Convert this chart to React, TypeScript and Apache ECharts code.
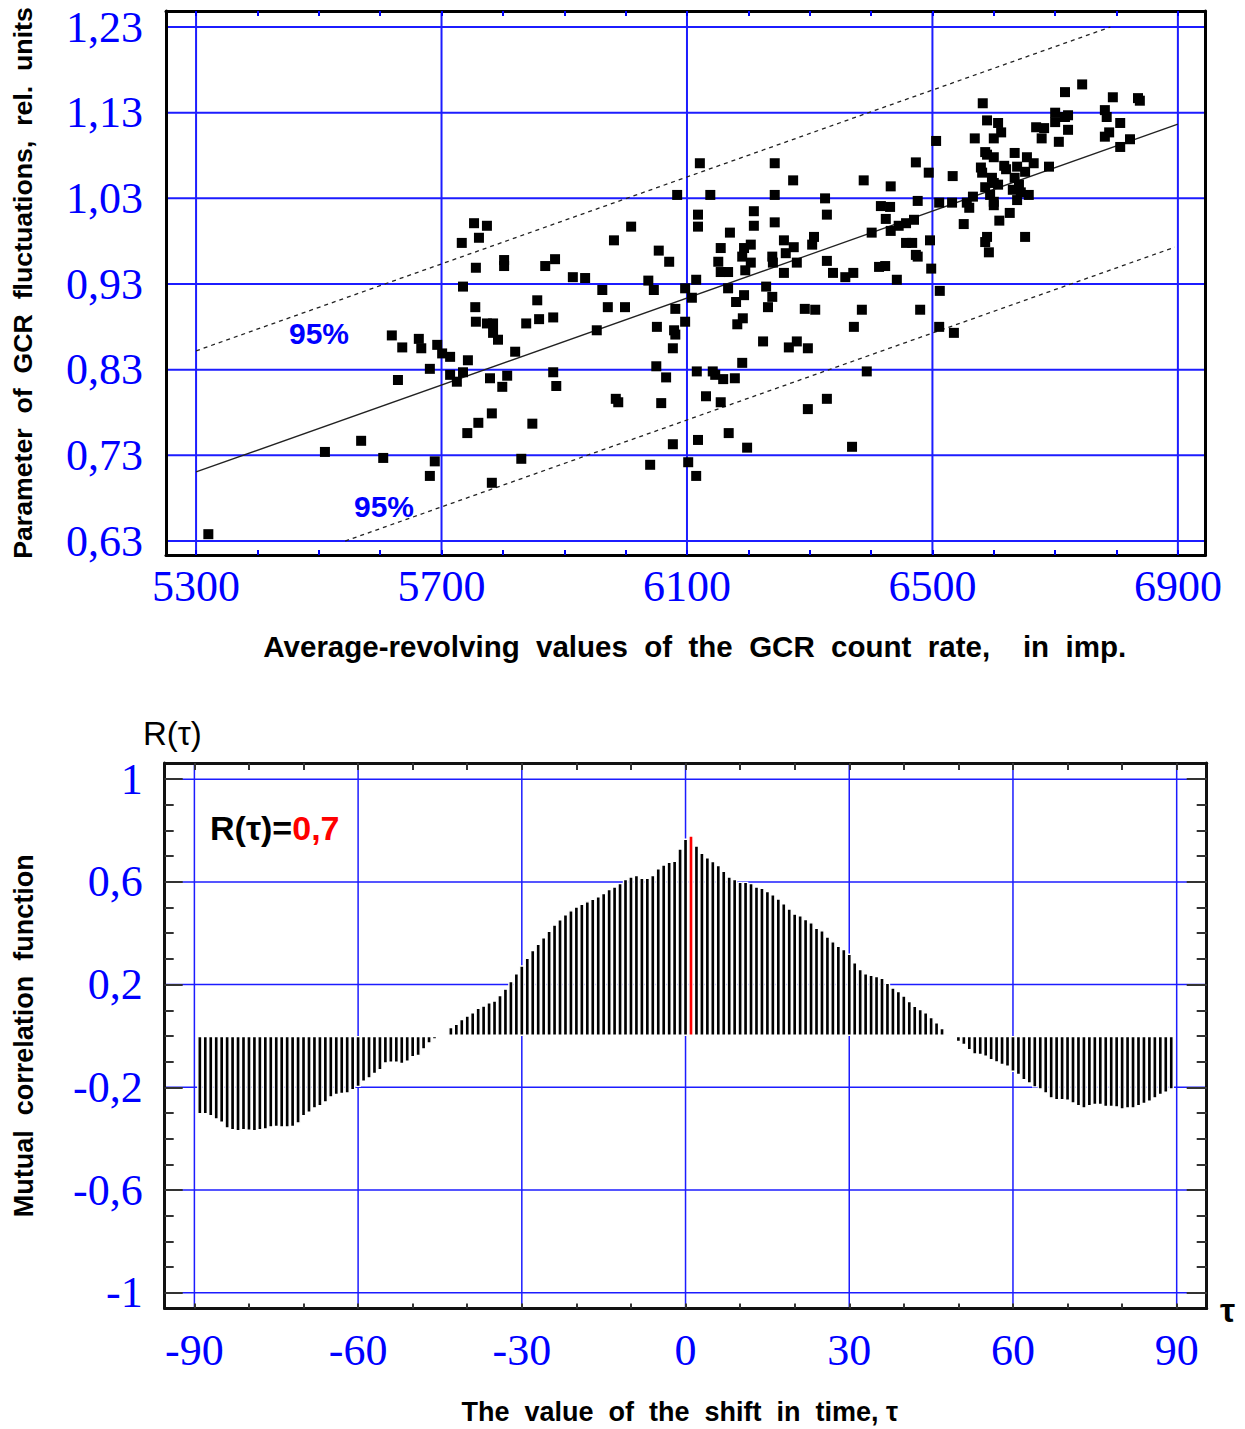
import React, { useEffect, useRef } from "react";
import * as echarts from "echarts";

// ---------- top chart data ----------
const gcrLabelTicks = [5300, 5700, 6100, 6500, 6900];
const gcrMinorTicks = [5300, 5400, 5500, 5600, 5700, 5800, 5900, 6000, 6100, 6200, 6300, 6400, 6500, 6600, 6700, 6800, 6900];
const paramTicks = [0.63, 0.73, 0.83, 0.93, 1.03, 1.13, 1.23];

const gcrPoints: [number, number][] = [
  [6744, 1.163], [6716, 1.154], [6794, 1.148], [6835, 1.147], [6838, 1.144], [6582, 1.141], [6589, 1.121], [6607, 1.118],
  [6700, 1.13], [6700, 1.119], [6716, 1.125], [6721, 1.127], [6781, 1.133], [6784, 1.125], [6806, 1.118], [6669, 1.113],
  [6682, 1.112], [6678, 1.1], [6721, 1.11], [6706, 1.096], [6612, 1.107], [6600, 1.1], [6569, 1.1], [6788, 1.107],
  [6781, 1.102], [6822, 1.099], [6806, 1.09], [6506, 1.097], [6586, 1.084], [6589, 1.081], [6600, 1.078], [6634, 1.083],
  [6654, 1.078], [6665, 1.071], [6690, 1.067], [6617, 1.068], [6620, 1.064], [6579, 1.066], [6581, 1.06], [6638, 1.067],
  [6651, 1.061], [6597, 1.054], [6600, 1.048], [6586, 1.043], [6607, 1.046], [6634, 1.054], [6641, 1.046], [6631, 1.04],
  [6644, 1.037], [6657, 1.034], [6638, 1.028], [6594, 1.034], [6600, 1.026], [6600, 1.022], [6566, 1.032], [6556, 1.025],
  [6560, 1.019], [6533, 1.056], [6494, 1.06], [6473, 1.072], [6432, 1.044], [6388, 1.051], [6273, 1.051], [6243, 1.071],
  [6121, 1.071], [6084, 1.034], [6138, 1.034], [6243, 1.034], [6325, 1.03], [6476, 1.027], [6511, 1.025], [6532, 1.025],
  [6416, 1.021], [6431, 1.02], [6118, 1.011], [6118, 0.997], [6209, 1.015], [6209, 0.998], [6243, 1.002], [6328, 1.011],
  [6424, 1.006], [6432, 0.992], [6445, 0.998], [6457, 1.001], [6470, 1.005], [6551, 1.0], [6609, 1.004], [6626, 1.013],
  [6009, 0.997], [5981, 0.981], [6170, 0.99], [6155, 0.972], [6193, 0.972], [6204, 0.976], [6258, 0.981], [6274, 0.973],
  [6261, 0.966], [6307, 0.985], [6304, 0.976], [6401, 0.99], [6457, 0.978], [6467, 0.978], [6496, 0.981], [6589, 0.985],
  [6586, 0.979], [6651, 0.985], [6592, 0.967], [6054, 0.969], [6071, 0.956], [6190, 0.962], [6204, 0.955], [6195, 0.946],
  [6151, 0.956], [6155, 0.944], [6167, 0.944], [6239, 0.962], [6240, 0.955], [6258, 0.943], [6279, 0.955], [6328, 0.957],
  [6338, 0.943], [6358, 0.938], [6371, 0.943], [6413, 0.95], [6423, 0.951], [6473, 0.964], [6476, 0.962], [6498, 0.948],
  [6442, 0.935], [6037, 0.934], [6046, 0.923], [6097, 0.925], [6108, 0.914], [6167, 0.925], [6229, 0.927], [6239, 0.915],
  [6232, 0.903], [6180, 0.909], [6193, 0.917], [6512, 0.922], [5962, 0.923], [5971, 0.903], [5999, 0.903], [6081, 0.901],
  [6292, 0.901], [6309, 0.9], [6385, 0.9], [6480, 0.9], [6115, 0.935], [6097, 0.886], [6051, 0.88], [6079, 0.876],
  [6081, 0.871], [6077, 0.855], [6182, 0.883], [6191, 0.89], [6372, 0.88], [6224, 0.863], [6266, 0.856], [6279, 0.863],
  [6297, 0.855], [6190, 0.838], [6050, 0.834], [6066, 0.821], [6116, 0.828], [6142, 0.828], [6146, 0.824], [6159, 0.819],
  [6178, 0.82], [6393, 0.828], [6511, 0.88], [5984, 0.796], [5988, 0.792], [6058, 0.791], [6131, 0.799], [6155, 0.792],
  [6297, 0.784], [6328, 0.796], [6168, 0.756], [6077, 0.743], [6118, 0.748], [6198, 0.739], [6369, 0.74], [6040, 0.719],
  [6102, 0.722], [6115, 0.706], [5755, 0.903], [5756, 0.886], [5774, 0.884], [5784, 0.884], [5784, 0.873], [5792, 0.865],
  [5619, 0.87], [5636, 0.856], [5663, 0.866], [5667, 0.855], [5693, 0.859], [5701, 0.849], [5714, 0.845], [5681, 0.831],
  [5629, 0.818], [5743, 0.841], [5714, 0.824], [5725, 0.816], [5735, 0.827], [5779, 0.82], [5799, 0.81], [5807, 0.823],
  [5820, 0.851], [5838, 0.884], [5859, 0.889], [5882, 0.891], [5856, 0.911], [5953, 0.876], [5882, 0.827], [5887, 0.811],
  [5782, 0.779], [5760, 0.768], [5742, 0.756], [5848, 0.767], [5830, 0.726], [5782, 0.698], [5605, 0.727], [5689, 0.723],
  [5681, 0.706], [5569, 0.747], [5510, 0.734], [5320, 0.638], [5733, 0.978], [5753, 1.001], [5774, 0.998], [5761, 0.984],
  [5756, 0.949], [5735, 0.927], [5802, 0.958], [5802, 0.951], [5869, 0.951], [5885, 0.959], [5914, 0.938], [5934, 0.937],
  [6535, 0.873],
];

const fitLine: [number, number][] = [[5300, 0.7106], [6900, 1.1166]];
const upper95: [number, number][] = [[5300, 0.852], [6790, 1.23]];
const lower95: [number, number][] = [[5543, 0.63], [6895, 0.973]];

// ---------- bottom chart data ----------
const lagLabelTicks = [-90, -60, -30, 0, 30, 60, 90];
const lagMinorTicks = [-90, -80, -70, -60, -50, -40, -30, -20, -10, 0, 10, 20, 30, 40, 50, 60, 70, 80, 90];
const corrLabelTicks = [-1, -0.6, -0.2, 0.2, 0.6, 1];
const corrMinorTicks = [-1, -0.9, -0.8, -0.7, -0.6, -0.5, -0.4, -0.3, -0.2, -0.1, 0, 0.1, 0.2, 0.3, 0.4, 0.5, 0.6, 0.7, 0.8, 0.9, 1];
const LAG_FIRST = -89;
const PEAK_LAG = 1;
const corrValues = [
  -0.306, -0.306, -0.313, -0.326, -0.339, -0.361, -0.368, -0.372, -0.368, -0.37, // -89..-80
  -0.372, -0.368, -0.365, -0.357, -0.355, -0.357, -0.357, -0.355, -0.342, -0.313, // -79..-70
  -0.3, -0.283, -0.274, -0.26, -0.24, -0.231, -0.227, -0.225, -0.212, -0.199, // -69..-60
  -0.179, -0.166, -0.149, -0.134, -0.108, -0.105, -0.105, -0.11, -0.101, -0.084, // -59..-50
  -0.079, -0.053, -0.03, -0.014, 0, 0.011, 0.035, 0.048, 0.067, 0.08, // -49..-40
  0.093, 0.11, 0.119, 0.132, 0.139, 0.16, 0.185, 0.215, 0.245, 0.275, // -39..-30
  0.305, 0.335, 0.36, 0.385, 0.41, 0.435, 0.455, 0.475, 0.49, 0.505, // -29..-20
  0.515, 0.525, 0.535, 0.545, 0.557, 0.573, 0.583, 0.596, 0.612, 0.622, // -19..-10
  0.627, 0.617, 0.617, 0.627, 0.654, 0.668, 0.679, 0.683, 0.731, 0.769, // -9..0
  0.781, 0.742, 0.714, 0.697, 0.682, 0.666, 0.644, 0.622, 0.612, 0.601, // 1..10
  0.601, 0.596, 0.583, 0.578, 0.565, 0.552, 0.536, 0.517, 0.497, 0.477, // 11..20
  0.471, 0.456, 0.443, 0.422, 0.412, 0.388, 0.369, 0.352, 0.339, 0.321, // 21..30
  0.288, 0.261, 0.245, 0.239, 0.234, 0.227, 0.208, 0.189, 0.176, 0.158, // 31..40
  0.137, 0.118, 0.106, 0.093, 0.074, 0.054, 0.032, 0.009, 0, -0.024, // 41..50
  -0.036, -0.056, -0.073, -0.075, -0.082, -0.095, -0.104, -0.114, -0.121, -0.14, // 51..60
  -0.153, -0.173, -0.186, -0.201, -0.209, -0.225, -0.244, -0.251, -0.251, -0.253, // 61..70
  -0.264, -0.274, -0.283, -0.274, -0.27, -0.27, -0.277, -0.277, -0.279, -0.287, // 71..80
  -0.283, -0.283, -0.274, -0.266, -0.257, -0.244, -0.231, -0.222, -0.209, // 81..89
];

// ---------- styling ----------
const BLUE = "#0000ff";
const GRID_BLUE = "#1c1cff";
const SANS = "Liberation Sans";
const SERIF = "Liberation Serif";

const TOP_X: [number, number] = [5251, 6945];
const TOP_Y: [number, number] = [0.6137, 1.2487];
const BOT_X: [number, number] = [-95.44, 95.5];
const BOT_Y: [number, number] = [-1.0615, 1.063];

const plainFmt = (v: number) => String(v);
const commaFmt2 = (v: number) => v.toFixed(2).replace(".", ",");
const commaFmt = (v: number) => String(v).replace(".", ",");

function gridLinesV(vals: number[], yr: [number, number], xi: number, yi: number, width: number) {
  return vals.map((v) => ({
    type: "line",
    xAxisIndex: xi,
    yAxisIndex: yi,
    data: [[v, yr[0]], [v, yr[1]]],
    symbol: "none",
    silent: true,
    z: 1,
    lineStyle: { color: GRID_BLUE, width },
  }));
}
function gridLinesH(vals: number[], xr: [number, number], xi: number, yi: number, width: number) {
  return vals.map((v) => ({
    type: "line",
    xAxisIndex: xi,
    yAxisIndex: yi,
    data: [[xr[0], v], [xr[1], v]],
    symbol: "none",
    silent: true,
    z: 1,
    lineStyle: { color: GRID_BLUE, width },
  }));
}

const nameStyle = (size: number, padding?: number[]) => ({
  fontFamily: SANS, fontWeight: "bold", fontSize: size, color: "#000", ...(padding ? { padding } : {}),
});
const tickLabel = { fontFamily: SERIF, fontSize: 44, color: BLUE };

export default function App() {
  const ref = useRef<HTMLDivElement>(null);
  useEffect(() => {
    if (!ref.current) return;
    const chart = echarts.init(ref.current, undefined, { renderer: "svg" });

    const bars = corrValues.map((v, i) => {
      const lag = LAG_FIRST + i;
      return lag === PEAK_LAG
        ? { value: [lag, v], itemStyle: { color: "#ff0000" } }
        : { value: [lag, v] };
    });

    const option: any = {
      animation: false,
      backgroundColor: "#ffffff",
      grid: [
        { left: 166, top: 11, width: 1039.5, height: 544, outerBoundsMode: "none" },
        { left: 164.7, top: 763, width: 1042, height: 545.5, outerBoundsMode: "none" },
      ],
      xAxis: [
        {
          type: "value", gridIndex: 0, position: "bottom", min: TOP_X[0], max: TOP_X[1], z: 5,
          axisLine: { show: true, onZero: false, lineStyle: { color: "#000", width: 3 } },
          axisTick: { show: true, inside: true, length: 5, customValues: gcrMinorTicks, lineStyle: { color: BLUE, width: 2 } },
          axisLabel: { show: true, customValues: gcrLabelTicks, margin: 9, formatter: plainFmt, ...tickLabel },
          splitLine: { show: false },
          name: "Average-revolving  values  of  the  GCR  count  rate,    in  imp.",
          nameLocation: "middle", nameGap: 76, nameMoveOverlap: false,
          nameTextStyle: nameStyle(29.5, [0, 0, 0, 18]),
        },
        {
          type: "value", gridIndex: 0, position: "top", min: TOP_X[0], max: TOP_X[1], z: 5,
          axisLine: { show: true, onZero: false, lineStyle: { color: "#000", width: 3 } },
          axisTick: { show: true, inside: true, length: 5, customValues: gcrMinorTicks, lineStyle: { color: BLUE, width: 2 } },
          axisLabel: { show: false },
          splitLine: { show: false },
        },
        {
          type: "value", gridIndex: 1, position: "bottom", min: BOT_X[0], max: BOT_X[1], z: 5,
          axisLine: { show: true, onZero: false, lineStyle: { color: "#111", width: 3 } },
          axisTick: { show: true, inside: true, length: 5, customValues: lagMinorTicks, lineStyle: { color: "#333", width: 2 } },
          axisLabel: { show: true, customValues: lagLabelTicks, margin: 20, formatter: plainFmt, ...tickLabel },
          splitLine: { show: false },
          name: "The  value  of  the  shift  in  time, τ",
          nameLocation: "middle", nameGap: 90, nameMoveOverlap: false,
          nameTextStyle: nameStyle(27, [0, 12, 0, 0]),
        },
        {
          type: "value", gridIndex: 1, position: "top", min: BOT_X[0], max: BOT_X[1], z: 5,
          axisLine: { show: true, onZero: false, lineStyle: { color: "#111", width: 3 } },
          axisTick: { show: true, inside: true, length: 7, customValues: lagMinorTicks, lineStyle: { color: "#333", width: 2 } },
          axisLabel: { show: false },
          splitLine: { show: false },
        },
      ],
      yAxis: [
        {
          type: "value", gridIndex: 0, position: "left", min: TOP_Y[0], max: TOP_Y[1], z: 5,
          axisLine: { show: true, onZero: false, lineStyle: { color: "#000", width: 3 } },
          axisTick: { show: false },
          axisLabel: { show: true, customValues: paramTicks, margin: 23, formatter: commaFmt2, ...tickLabel },
          splitLine: { show: false },
          name: "Parameter  of  GCR  fluctuations,  rel.  units",
          nameLocation: "middle", nameGap: 130, nameRotate: 90, nameMoveOverlap: false,
          nameTextStyle: nameStyle(26.7),
        },
        {
          type: "value", gridIndex: 0, position: "right", min: TOP_Y[0], max: TOP_Y[1], z: 5,
          axisLine: { show: true, onZero: false, lineStyle: { color: "#000", width: 3 } },
          axisTick: { show: false },
          axisLabel: { show: false },
          splitLine: { show: false },
        },
        {
          type: "value", gridIndex: 1, position: "left", min: BOT_Y[0], max: BOT_Y[1], z: 5,
          axisLine: { show: true, onZero: false, lineStyle: { color: "#111", width: 3 } },
          axisTick: { show: true, inside: true, length: 18, customValues: corrLabelTicks, lineStyle: { color: "#333", width: 2 } },
          axisLabel: { show: true, customValues: corrLabelTicks, margin: 22, formatter: commaFmt, ...tickLabel },
          splitLine: { show: false },
          name: "Mutual  correlation  function",
          nameLocation: "middle", nameGap: 127, nameRotate: 90, nameMoveOverlap: false,
          nameTextStyle: nameStyle(27),
        },
        {
          type: "value", gridIndex: 1, position: "left", offset: 0, min: BOT_Y[0], max: BOT_Y[1], z: 5,
          axisLine: { show: false, onZero: false },
          axisTick: { show: true, inside: true, length: 9, customValues: corrMinorTicks, lineStyle: { color: "#333", width: 2 } },
          axisLabel: { show: false },
          splitLine: { show: false },
        },
        {
          type: "value", gridIndex: 1, position: "right", min: BOT_Y[0], max: BOT_Y[1], z: 5,
          axisLine: { show: true, onZero: false, lineStyle: { color: "#111", width: 3 } },
          axisTick: { show: true, inside: true, length: 20, customValues: corrLabelTicks, lineStyle: { color: "#333", width: 2 } },
          axisLabel: { show: false },
          splitLine: { show: false },
        },
        {
          type: "value", gridIndex: 1, position: "right", offset: 0, min: BOT_Y[0], max: BOT_Y[1], z: 5,
          axisLine: { show: false, onZero: false },
          axisTick: { show: true, inside: true, length: 10, customValues: corrMinorTicks, lineStyle: { color: "#333", width: 2 } },
          axisLabel: { show: false },
          splitLine: { show: false },
        },
      ],
      series: [
        ...gridLinesV(gcrLabelTicks, TOP_Y, 0, 0, 2),
        ...gridLinesH(paramTicks, TOP_X, 0, 0, 2),
        ...gridLinesV(lagLabelTicks, BOT_Y, 2, 2, 1.5),
        ...gridLinesH(corrLabelTicks, BOT_X, 2, 2, 1.5),
        {
          type: "line", xAxisIndex: 0, yAxisIndex: 0, data: fitLine, symbol: "none", silent: true, z: 2,
          lineStyle: { color: "#222", width: 1.3 },
        },
        {
          type: "line", xAxisIndex: 0, yAxisIndex: 0, data: upper95, symbol: "none", silent: true, z: 2,
          lineStyle: { color: "#222", width: 1.3, type: [4, 4] },
        },
        {
          type: "line", xAxisIndex: 0, yAxisIndex: 0, data: lower95, symbol: "none", silent: true, z: 2,
          lineStyle: { color: "#222", width: 1.3, type: [4, 4] },
        },
        {
          type: "scatter", xAxisIndex: 0, yAxisIndex: 0, data: gcrPoints, symbol: "rect", symbolSize: 10, z: 3,
          itemStyle: { color: "#000", opacity: 1 },
        },
        {
          type: "bar", xAxisIndex: 2, yAxisIndex: 2, data: bars, barWidth: 5.46, z: 3,
          itemStyle: { color: "#000", borderColor: "#fff", borderWidth: 1.4, opacity: 1 },
        },
      ],
      graphic: [
        { type: "text", x: 289, y: 333, z: 10, style: { text: "95%", fill: BLUE, fontFamily: SANS, fontWeight: "bold", fontSize: 30, verticalAlign: "middle", align: "left" } },
        { type: "text", x: 354, y: 506, z: 10, style: { text: "95%", fill: BLUE, fontFamily: SANS, fontWeight: "bold", fontSize: 30, verticalAlign: "middle", align: "left" } },
        { type: "text", x: 143, y: 733, z: 10, style: { text: "R(τ)", fill: "#000", fontFamily: SANS, fontSize: 33, verticalAlign: "middle", align: "left" } },
        {
          type: "text", x: 210, y: 828, z: 10,
          style: {
            text: "{a|R(τ)=}{b|0,7}", verticalAlign: "middle", align: "left",
            rich: {
              a: { fill: "#000", fontFamily: SANS, fontWeight: "bold", fontSize: 34 },
              b: { fill: "#ff0000", fontFamily: SANS, fontWeight: "bold", fontSize: 34 },
            },
          },
        },
        { type: "text", x: 1220, y: 1310, z: 10, style: { text: "τ", fill: "#000", fontFamily: SANS, fontWeight: "bold", fontSize: 34, verticalAlign: "middle", align: "left" } },
      ],
    };
    chart.setOption(option);
    return () => chart.dispose();
  }, []);
  return <div ref={ref} style={{ position: "absolute", left: 0, top: 0, width: 1245, height: 1429 }} />;
}
